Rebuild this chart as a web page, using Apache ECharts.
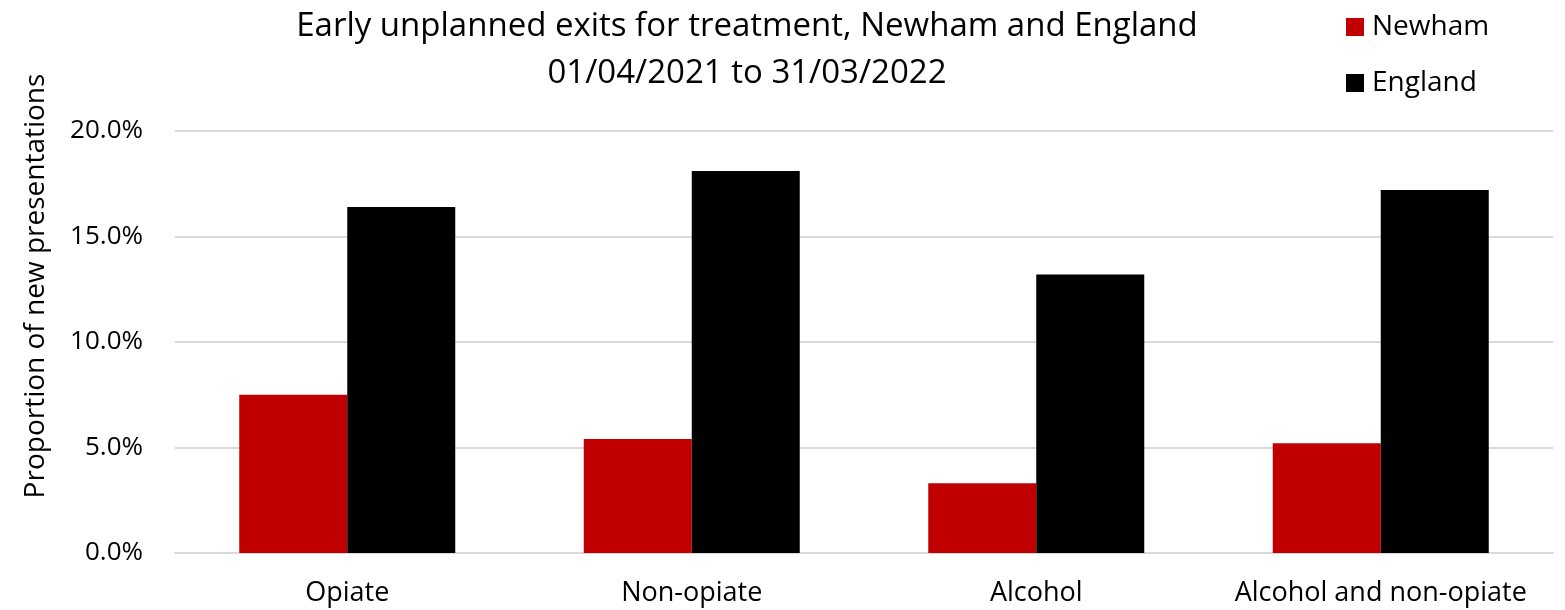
<!DOCTYPE html>
<html>
<head>
<meta charset="utf-8">
<script src="https://cdn.jsdelivr.net/npm/echarts@6/dist/echarts.min.js"></script>
<style>
  html, body { margin: 0; padding: 0; background: #fff; }
  #chart { width: 1565px; height: 610px; }
</style>
</head>
<body>
<div id="chart"></div>
<script>
// Early unplanned exits from treatment, by substance group (proportion of new presentations, %)
const categories = ['Opiate', 'Non-opiate', 'Alcohol', 'Alcohol and non-opiate'];
const newham = [7.5, 5.4, 3.3, 5.2];
const england = [16.4, 18.1, 13.2, 17.2];
const yTicks = { min: 0, max: 20, interval: 5 };

const FONT = 'Open Sans';
const chart = echarts.init(document.getElementById('chart'));

chart.setOption({
  backgroundColor: '#ffffff',
  textStyle: { fontFamily: FONT },
  title: {
    text: 'Early unplanned exits for treatment, Newham and England\n01/04/2021 to 31/03/2022',
    left: 747,
    textAlign: 'center',
    top: 3,
    padding: 0,
    textStyle: { fontFamily: FONT, fontSize: 33, fontWeight: 'normal', color: '#000', lineHeight: 47 }
  },
  legend: {
    orient: 'vertical',
    left: 1341,
    top: 8,
    itemWidth: 18,
    itemHeight: 18,
    itemGap: 28,
    icon: 'rect',
    textStyle: { fontFamily: FONT, fontSize: 28, color: '#000', padding: [0, 0, 0, 3] },
    data: ['Newham', 'England']
  },
  grid: { left: 175, right: 12, top: 131, bottom: 57, containLabel: false },
  xAxis: {
    type: 'category',
    data: categories,
    axisLine: { show: true, lineStyle: { color: '#d9d9d9', width: 2 } },
    axisTick: { show: false },
    axisLabel: { interval: 0, fontFamily: FONT, fontSize: 27, color: '#000', margin: 27 }
  },
  yAxis: {
    type: 'value',
    min: yTicks.min,
    max: yTicks.max,
    interval: yTicks.interval,
    name: 'Proportion of new presentations',
    nameLocation: 'middle',
    nameGap: 125,
    nameTextStyle: { fontFamily: FONT, fontSize: 28, color: '#000', padding: [0, 0, 0, 112] },
    axisLine: { show: false },
    axisTick: { show: false },
    axisLabel: {
      fontFamily: FONT, fontSize: 26, color: '#000', margin: 32,
      formatter: v => v.toFixed(1) + '%'
    },
    splitLine: { lineStyle: { color: '#d9d9d9', width: 2 } }
  },
  series: [
    {
      name: 'Newham',
      type: 'bar',
      data: newham,
      barWidth: '31.35%',
      barGap: '0%',
      itemStyle: { color: '#c00000' }
    },
    {
      name: 'England',
      type: 'bar',
      data: england,
      barWidth: '31.35%',
      itemStyle: { color: '#000000' }
    }
  ]
});
</script>
</body>
</html>
